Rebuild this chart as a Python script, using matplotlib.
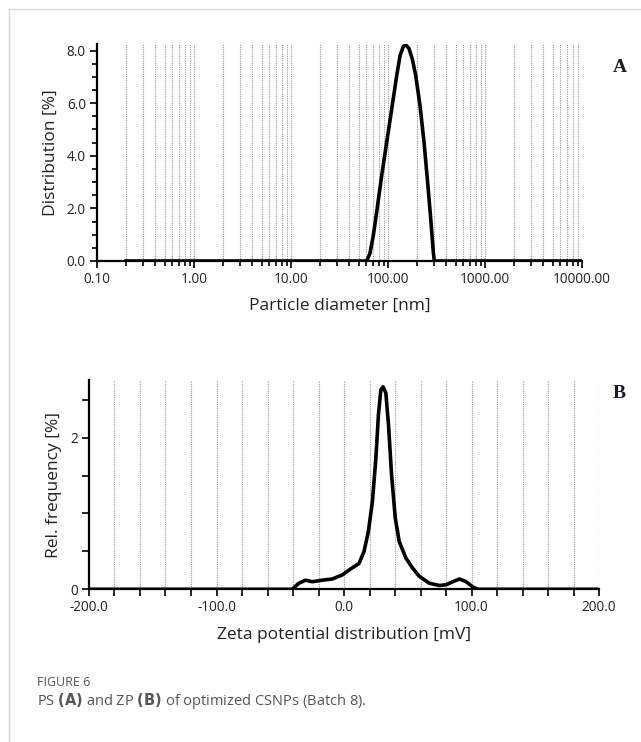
import matplotlib.pyplot as plt
import numpy as np
from matplotlib.lines import Line2D

plt.rcParams['font.family'] = ['Open Sans', 'DejaVu Sans']

# panel A: particle size distribution
size_nm = [0.2, 60.3, 65.2, 70.6, 76.5, 86.2, 97.0, 109.2, 123.0, 133.0,
           143.9, 152.2, 164.5, 178.1, 193.1, 213.8, 235.1, 254.3, 275.4,
           293.1, 300.0, 10000.0]
size_pct = [0.0, 0.0, 0.29, 0.98, 1.87, 3.26, 4.52, 5.78, 7.05, 7.80,
            8.16, 8.22, 8.08, 7.68, 7.05, 5.91, 4.52, 3.13, 1.62,
            0.35, 0.0, 0.0]

# panel B: zeta potential distribution
zeta_mv = [-200, -40.7, -35.4, -30.2, -25.0, -17.1, -9.2, -1.3, 5.3, 11.8,
           15.7, 19.1, 22.3, 25.0, 27.0, 28.9, 30.7, 32.8, 34.9, 37.3,
           40.2, 43.3, 48.6, 53.8, 59.1, 66.9, 74.8, 80.1, 85.3, 90.6,
           95.8, 101.0, 105.0, 200]
zeta_freq = [0, 0, 0.08, 0.12, 0.10, 0.12, 0.136, 0.19, 0.27, 0.34,
             0.50, 0.76, 1.16, 1.73, 2.30, 2.63, 2.67, 2.59, 2.17, 1.51,
             0.94, 0.63, 0.41, 0.28, 0.17, 0.08, 0.05, 0.06, 0.10, 0.136,
             0.10, 0.03, 0, 0]

a_xticks = [0.1, 1, 10, 100, 1000, 10000]
a_xlabels = ['0.10', '1.00', '10.00', '100.00', '1000.00', '10000.00']
a_yticks = [0, 2, 4, 6, 8]
b_xticks = [-200, -100, 0, 100, 200]
b_xlabels = ['-200.0', '-100.0', '0.0', '100.0', '200.0']

txt = '#222222'
fig = plt.figure(figsize=(6.41, 7.42), dpi=100)

# page frame lines
fig.add_artist(Line2D([9/641, 9/641], [0, 1 - 9/742], color='#d8d8d8', lw=1))
fig.add_artist(Line2D([9/641, 1], [1 - 9/742, 1 - 9/742], color='#d8d8d8', lw=1))


def style(ax):
    for s in ['top', 'right']:
        ax.spines[s].set_visible(False)
    for s in ['left', 'bottom']:
        ax.spines[s].set_linewidth(1.6)
    ax.tick_params(which='major', length=5, width=1.4, labelsize=9.8, colors=txt, pad=3)
    ax.tick_params(which='minor', length=3.5, width=1.2)


# ---- A ----
ax1 = fig.add_axes([97/641, 1 - 261/742, 485/641, 217/742])
ax1.set_xscale('log')
ax1.set_xlim(0.1, 10000)
ax1.set_ylim(0, 8.25)
grid_a = [m * 10.0 ** k for k in range(-1, 4) for m in range(2, 11)]
ax1.vlines(grid_a, 0, 8.3, colors='#999999', linestyles=(0, (1, 1)), lw=0.8, zorder=0)
ax1.plot(size_nm, size_pct, color='black', lw=2.6, solid_joinstyle='round')
ax1.set_xticks(a_xticks)
ax1.set_xticklabels(a_xlabels)
ax1.set_xticks(grid_a, minor=True)
ax1.xaxis.set_minor_formatter(plt.NullFormatter())
ax1.set_yticks(a_yticks)
ax1.set_yticklabels(['%.1f' % v for v in a_yticks])
ax1.set_yticks(np.arange(0, 8.01, 0.5), minor=True)
style(ax1)
ax1.set_xlabel('Particle diameter [nm]', fontsize=12.5, color=txt, labelpad=8)
ax1.set_ylabel('Distribution [%]', fontsize=12.5, color=txt, labelpad=6)
fig.text(620/641, 1 - 67/742, 'A', family='Liberation Serif', weight='bold',
         fontsize=14, color='#1a1a2a', ha='center', va='center')

# ---- B ----
ax2 = fig.add_axes([89/641, 1 - 589.3/742, 510/641, 209.3/742])
ax2.set_xlim(-200, 200)
ax2.set_ylim(0, 2.76)
grid_b = np.arange(-180, 201, 20)
ax2.vlines(grid_b, 0, 2.76, colors='#999999', linestyles=(0, (1, 1)), lw=0.8, zorder=0)
ax2.plot(zeta_mv, zeta_freq, color='black', lw=2.6, solid_joinstyle='round')
ax2.set_xticks(b_xticks)
ax2.set_xticklabels(b_xlabels)
ax2.set_xticks(grid_b, minor=True)
ax2.set_yticks([0, 2])
ax2.set_yticklabels(['0', '2'])
ax2.set_yticks(np.arange(0, 2.6, 0.5), minor=True)
style(ax2)
ax2.tick_params(which='minor', length=5)
ax2.set_xlabel('Zeta potential distribution [mV]', fontsize=12.5, color=txt, labelpad=8)
ax2.set_ylabel('Rel. frequency [%]', fontsize=12.5, color=txt, labelpad=6)
fig.text(619/641, 1 - 393/742, 'B', family='Liberation Serif', weight='bold',
         fontsize=14, color='#1a1a2a', ha='center', va='center')

# caption
fig.text(37/641, 1 - 682/742, 'FIGURE 6', fontsize=9, color='#555555', va='center')
fig.text(37/641, 1 - 701/742, 'PS $\\bf{(A)}$ and ZP $\\bf{(B)}$ of optimized CSNPs (Batch 8).',
         fontsize=10.5, color='#555555', va='center')

fig.savefig('out.png', dpi=100)
